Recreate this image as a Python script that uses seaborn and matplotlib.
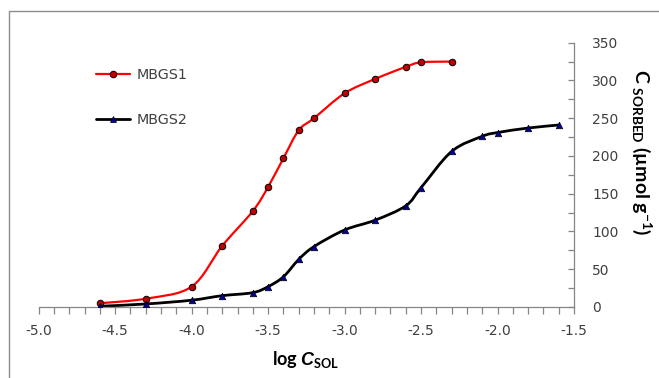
import numpy as np
import pandas as pd
import matplotlib
matplotlib.use("Agg")
import matplotlib.pyplot as plt
import seaborn as sns
from matplotlib.path import Path
from matplotlib.patches import PathPatch, Rectangle
from matplotlib.lines import Line2D
from matplotlib.ticker import MultipleLocator, FormatStrFormatter

# ---- data ----
log_c_mbgs1 = [-4.6, -4.3, -4.0, -3.8, -3.6, -3.5, -3.4, -3.3, -3.2, -3.0, -2.8, -2.6, -2.5, -2.3]
c_mbgs1 = [5, 11, 27, 81, 127, 159, 197, 234, 250, 283, 302, 318, 324, 325]

log_c_mbgs2 = [-4.6, -4.3, -4.0, -3.8, -3.6, -3.5, -3.4, -3.3, -3.2, -3.0, -2.8, -2.6, -2.5, -2.3,
               -2.1, -2.0, -1.8, -1.6]
c_mbgs2 = [1, 4, 9, 15, 19, 27, 40, 63, 80, 102, 115, 134, 158, 206, 226, 231, 237, 241]

series_names = ["MBGS1", "MBGS2"]
x_ticks = [-5.0, -4.5, -4.0, -3.5, -3.0, -2.5, -2.0, -1.5]
y_ticks = [0, 50, 100, 150, 200, 250, 300, 350]

df1 = pd.DataFrame({"logC": log_c_mbgs1, "C": c_mbgs1})
df2 = pd.DataFrame({"logC": log_c_mbgs2, "C": c_mbgs2})

sns.set_style("white")
plt.rcParams["font.family"] = ["DejaVu Sans"]
plt.rcParams["mathtext.fontset"] = "custom"
plt.rcParams["mathtext.rm"] = "Lato:bold"
plt.rcParams["mathtext.it"] = "Liberation Sans:italic:bold"
plt.rcParams["mathtext.bf"] = "Lato:bold"

W, H = 659, 378
fig = plt.figure(figsize=(W / 100, H / 100), dpi=100)
ax = fig.add_axes([38.7 / W, 1 - 307 / H, (574 - 38.7) / W, (307 - 42.7) / H])


def smooth_path(xs, ys):
    """Excel-style smoothed line: cubic Bezier segments through the data points."""
    P = np.column_stack([xs, ys]).astype(float)
    n = len(P)
    verts = [P[0]]
    codes = [Path.MOVETO]
    for i in range(n - 1):
        p0 = P[i - 1] if i > 0 else P[i]
        p1 = P[i]
        p2 = P[i + 1]
        p3 = P[i + 2] if i + 2 < n else P[i + 1]
        c1 = p1 + (p2 - p0) / 6.0
        c2 = p2 - (p3 - p1) / 6.0
        verts += [c1, c2, p2]
        codes += [Path.CURVE4] * 3
    return Path(verts, codes)


red = "#FF0000"
red_fill = "#C00000"
blk = "#000000"
blue_fill = "#0000A0"

ax.add_patch(PathPatch(smooth_path(df1["logC"], df1["C"]), fill=False,
                       edgecolor=red, lw=1.6, zorder=2, capstyle="round"))
ax.add_patch(PathPatch(smooth_path(df2["logC"], df2["C"]), fill=False,
                       edgecolor=blk, lw=2.0, zorder=2, capstyle="round"))

sns.scatterplot(data=df1, x="logC", y="C", marker="o", s=22, color=red_fill,
                edgecolor="black", linewidth=0.7, zorder=3, ax=ax, legend=False)
sns.scatterplot(data=df2, x="logC", y="C", marker="^", s=22, color=blue_fill,
                edgecolor="black", linewidth=0.5, zorder=3, ax=ax, legend=False)

ax.set_xlim(-5.0, -1.5)
ax.set_ylim(0, 350)

# spines
for s in ["left", "top"]:
    ax.spines[s].set_visible(False)
for s in ["right", "bottom"]:
    ax.spines[s].set_color("#868686")
    ax.spines[s].set_linewidth(0.9)

ax.set_xticks(x_ticks)
ax.xaxis.set_major_formatter(FormatStrFormatter("%.1f"))
ax.xaxis.set_minor_locator(MultipleLocator(0.1))
ax.set_yticks(y_ticks)
ax.yaxis.set_minor_locator(MultipleLocator(25))
ax.yaxis.tick_right()
ax.tick_params(axis="x", which="both", direction="out", length=5, width=0.9,
               color="#868686", labelsize=10, labelcolor="#404040", pad=7,
               bottom=True, top=False)
ax.tick_params(axis="y", which="both", direction="in", length=4, width=0.9,
               color="#868686", labelsize=10, labelcolor="#404040", pad=13,
               right=True, left=False)
ax.set_xlabel("")
ax.set_ylabel("")
ax.grid(False)

# axis titles
fig.text(305.5 / W, 1 - 359 / H, r"log $\mathit{C}_{\mathbf{SOL}}$", ha="center", va="center",
         fontsize=13, fontweight="bold", family=["Lato", "DejaVu Sans"], color="#000000")
fig.text(642 / W, 1 - 152 / H, "C $_{\\mathbf{SORBED}}$ (\u00b5mol g$^{\\mathbf{-1}}$)",
         ha="center", va="center", rotation=-90, fontsize=14, fontweight="bold",
         family=["Lato", "DejaVu Sans"], color="#000000")

# legend
handles = [
    Line2D([], [], color=red, lw=1.6, marker="o", markersize=4.7,
           markerfacecolor=red_fill, markeredgecolor="black", markeredgewidth=0.7),
    Line2D([], [], color=blk, lw=2.0, marker="^", markersize=4.7,
           markerfacecolor=blue_fill, markeredgecolor="black", markeredgewidth=0.5),
]
leg = ax.legend(handles, series_names, loc="upper left",
                bbox_to_anchor=((96 - 38.7) / (574 - 38.7), (307 - 68) / (307 - 42.7)),
                frameon=False, fontsize=10.3, handlelength=2.4, handletextpad=0.45,
                labelspacing=2.15, borderpad=0, borderaxespad=0)
for t in leg.get_texts():
    t.set_color("#404040")

# chart-area border (left and top edges visible)
fig.patches.append(Rectangle((9 / W, -0.1), 1.2, 1 - 11 / H + 0.1, transform=fig.transFigure,
                             fill=False, edgecolor="#8c8c8c", lw=1.0, zorder=0))

fig.savefig("out.png", dpi=100)
